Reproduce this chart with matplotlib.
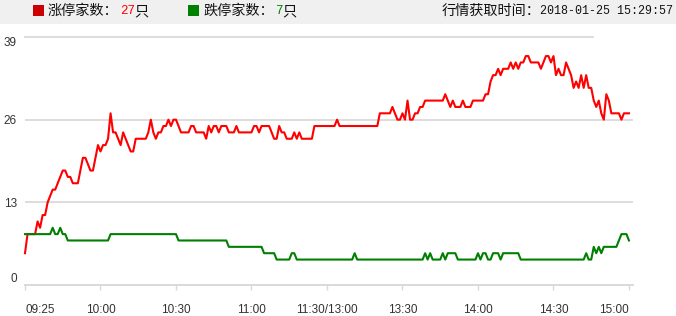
import matplotlib
matplotlib.use("Agg")
import matplotlib.pyplot as plt
from matplotlib.patches import Rectangle

# ---------------- data ----------------
# minute index 0..240 (09:30 .. 15:00, lunch break removed)
up_limit = [
    5, 8, 8, 8, 8, 10, 9, 11, 11, 13,
    14, 15, 15, 16, 17, 18, 18, 17, 17, 16,
    16, 16, 18, 20, 20, 19, 18, 18, 20, 22,
    21, 22, 22, 23, 27, 24, 24, 23, 22, 24,
    23, 22, 21, 21, 23, 23, 23, 23, 23, 24,
    26, 24, 23, 24, 24, 25, 25, 26, 25, 26,
    26, 25, 24, 24, 24, 24, 25, 25, 24, 24,
    24, 24, 23, 25, 24, 25, 25, 24, 25, 25,
    25, 24, 24, 24, 25, 24, 24, 24, 24, 24,
    24, 25, 25, 24, 25, 25, 25, 25, 24, 23,
    23, 25, 24, 24, 23, 23, 23, 24, 23, 24,
    23, 23, 23, 23, 23, 25, 25, 25, 25, 25,
    25, 25, 25, 25, 26, 25, 25, 25, 25, 25,
    25, 25, 25, 25, 25, 25, 25, 25, 25, 25,
    25, 27, 27, 27, 27, 27, 28, 27, 26, 26,
    27, 26, 29, 26, 26, 27, 27, 28, 28, 29,
    29, 29, 29, 29, 29, 29, 29, 30, 29, 28,
    29, 28, 28, 28, 29, 28, 28, 28, 29, 29,
    29, 29, 29, 30, 30, 32, 33, 33, 34, 33,
    34, 34, 34, 35, 34, 35, 34, 35, 35, 36,
    36, 35, 35, 35, 35, 34, 35, 36, 36, 35,
    36, 33, 34, 33, 33, 35, 34, 33, 31, 32,
    31, 33, 31, 33, 31, 31, 29, 28, 29, 27,
    26, 30, 29, 27, 27, 27, 27, 26, 27, 27,
    27,
]
down_limit = [
    8, 8, 8, 8, 8, 8, 8, 8, 8, 8,
    8, 9, 8, 8, 9, 8, 8, 7, 7, 7,
    7, 7, 7, 7, 7, 7, 7, 7, 7, 7,
    7, 7, 7, 7, 8, 8, 8, 8, 8, 8,
    8, 8, 8, 8, 8, 8, 8, 8, 8, 8,
    8, 8, 8, 8, 8, 8, 8, 8, 8, 8,
    8, 7, 7, 7, 7, 7, 7, 7, 7, 7,
    7, 7, 7, 7, 7, 7, 7, 7, 7, 7,
    7, 6, 6, 6, 6, 6, 6, 6, 6, 6,
    6, 6, 6, 6, 6, 5, 5, 5, 5, 5,
    4, 4, 4, 4, 4, 4, 5, 5, 4, 4,
    4, 4, 4, 4, 4, 4, 4, 4, 4, 4,
    4, 4, 4, 4, 4, 4, 4, 4, 4, 4,
    4, 5, 4, 4, 4, 4, 4, 4, 4, 4,
    4, 4, 4, 4, 4, 4, 4, 4, 4, 4,
    4, 4, 4, 4, 4, 4, 4, 4, 4, 5,
    4, 5, 4, 4, 4, 4, 5, 4, 5, 5,
    5, 5, 4, 4, 4, 4, 4, 4, 4, 4,
    5, 4, 5, 5, 4, 4, 5, 5, 5, 4,
    5, 5, 5, 5, 5, 5, 5, 4, 4, 4,
    4, 4, 4, 4, 4, 4, 4, 4, 4, 4,
    4, 4, 4, 4, 4, 4, 4, 4, 4, 4,
    4, 4, 4, 5, 4, 4, 6, 5, 6, 5,
    6, 6, 6, 6, 6, 6, 7, 8, 8, 8,
    7,
]
assert len(up_limit) == 241 and len(down_limit) == 241
minutes = list(range(len(up_limit)))

y_ticks = [0, 13, 26, 39]
x_tick_labels = ["09:25", "10:00", "10:30", "11:00", "11:30/13:00",
                 "13:30", "14:00", "14:30", "15:00"]
x_tick_pos = [0, 30, 60, 90, 120, 150, 180, 210, 240]

up_count = "27"
down_count = "7"
fetch_time = "2018-01-25 15:29:57"

# ---------------- figure ----------------
W, H = 676, 316
fig = plt.figure(figsize=(W / 100, H / 100), dpi=100)
fig.patch.set_facecolor("white")

cjk = ["Noto Sans CJK SC", "DejaVu Sans"]
mono = ["Liberation Mono", "DejaVu Sans Mono"]
cjk_size = 10.2

# header band
fig.patches.append(Rectangle((0, 1 - 24 / H), 1, 24 / H, transform=fig.transFigure,
                             facecolor="#f0f0f0", edgecolor="none", zorder=0))
ty = 1 - 11 / H
fig.patches.append(Rectangle((33 / W, 1 - 16 / H), 11 / W, 11 / H, transform=fig.transFigure,
                             facecolor="#cc0000", edgecolor="none", zorder=1))
fig.text(48 / W, ty, "涨停家数：", family=cjk, fontsize=cjk_size, color="#111111", va="center")
fig.text(120 / W, ty, up_count, family=mono, fontsize=9, color="#ff0000", va="center")
fig.text(134 / W, ty, "只", family=cjk, fontsize=cjk_size, color="#111111", va="center")

fig.patches.append(Rectangle((188 / W, 1 - 16 / H), 11 / W, 11 / H, transform=fig.transFigure,
                             facecolor="#008000", edgecolor="none", zorder=1))
fig.text(203 / W, ty, "跌停家数：", family=cjk, fontsize=cjk_size, color="#111111", va="center")
fig.text(275 / W, ty, down_count, family=mono, fontsize=9, color="#008000", va="center")
fig.text(282 / W, ty, "只", family=cjk, fontsize=cjk_size, color="#111111", va="center")

fig.text(442 / W, ty, "行情获取时间：", family=cjk, fontsize=cjk_size, color="#111111", va="center")
fig.text(673 / W, ty, fetch_time, family=mono, fontsize=8.4, color="#111111",
         va="center", ha="right")

# ---------------- axes ----------------
ax = fig.add_axes([25 / W, 31 / H, 608 / W, 248 / H])
ax.set_xlim(0, 241.6)
ax.set_ylim(0, 39)
ax.set_facecolor("white")
for s in ["top", "left", "right"]:
    ax.spines[s].set_visible(False)
ax.spines["bottom"].set_color("#d9d9d9")
ax.spines["bottom"].set_linewidth(1.4)

grid_c = "#dddddd"
ax.axhline(13, color=grid_c, lw=1.4, zorder=1)
ax.axhline(26, color=grid_c, lw=1.4, zorder=1)
ax.axhline(39, xmax=(593 - 25) / 608, color=grid_c, lw=1.4, zorder=1, clip_on=False)

ax.plot(minutes, up_limit, color="#ff0000", lw=1.5, zorder=3, clip_on=False)
ax.plot(minutes, down_limit, color="#008000", lw=1.5, zorder=3, clip_on=False)

ax.set_yticks(y_ticks)
ax.set_yticklabels([str(v) for v in y_ticks])
ax.tick_params(axis="y", length=0, pad=5.8, labelsize=8.5, labelcolor="#333333")
ylabels = ax.get_yticklabels()
ylabels[0].set_va("bottom")
ylabels[-1].set_va("top")
for lb in ylabels:
    lb.set_family(["Liberation Sans", "DejaVu Sans"])

ax.set_xticks(x_tick_pos)
ax.set_xticklabels(x_tick_labels)
ax.tick_params(axis="x", length=3.6, width=1, color="#d9d9d9", pad=10,
               labelsize=8.5, labelcolor="#333333")
xlabels = ax.get_xticklabels()
xlabels[0].set_ha("left")
xlabels[-1].set_ha("right")
for lb in xlabels:
    lb.set_family(["Liberation Sans", "DejaVu Sans"])

fig.savefig("out.png", dpi=100)
